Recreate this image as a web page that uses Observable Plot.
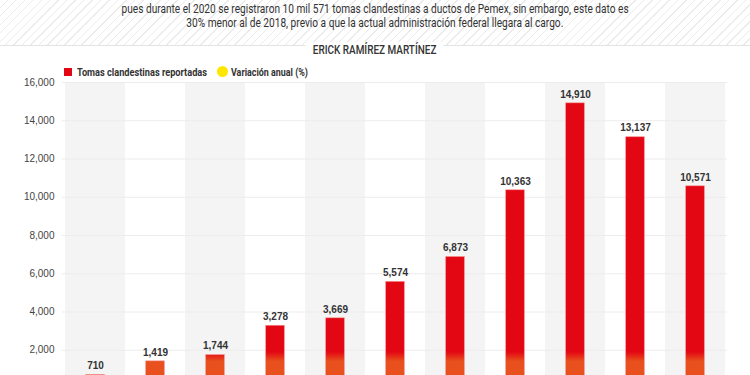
<!DOCTYPE html>
<html><head><meta charset="utf-8">
<script src="https://cdn.jsdelivr.net/npm/d3@7"></script>
<script src="https://cdn.jsdelivr.net/npm/@observablehq/plot@0.6"></script>
<style>
html,body{margin:0;padding:0;background:#fff;width:750px;height:375px;overflow:hidden;}
body{font-family:"Roboto","Liberation Sans",sans-serif;color:#333;position:relative;}
#header{position:absolute;top:0;left:0;width:750px;height:45px;border-bottom:1px solid #e3e3e3;
  background:repeating-linear-gradient(135deg,#ffffff 0px,#ffffff 5px,#ebebeb 5px,#ebebeb 6px);}
.line{position:absolute;left:0;width:750px;text-align:center;font-size:13px;line-height:15px;color:#333;}
.line span{display:inline-block;white-space:nowrap;transform-origin:center;}
#author{position:absolute;top:39px;left:0;width:750px;text-align:center;}
#author span{display:inline-block;background:#fff;padding:0 9px;font-size:12.5px;line-height:15px;font-weight:500;color:#333;white-space:nowrap;transform-origin:center;}
.lg{position:absolute;white-space:nowrap;font-size:11.5px;font-weight:700;line-height:14px;color:#333;transform-origin:left center;}
.sw{position:absolute;left:64px;top:68px;width:8px;height:8px;background:#e30613;}
.dot{position:absolute;left:217px;top:66px;width:11px;height:11px;border-radius:50%;background:#ffe600;}
#chart{position:absolute;top:70px;left:0;}
</style></head>
<body>
<div id="chart"></div>
<div id="header">
  <div class="line" style="top:1px"><span data-w="507">pues durante el 2020 se registraron 10 mil 571 tomas clandestinas a ductos de Pemex, sin embargo, este dato es</span></div>
  <div class="line" style="top:15px"><span data-w="377">30% menor al de 2018, previo a que la actual administración federal llegara al cargo.</span></div>
</div>
<div id="author"><span data-w="138">ERICK RAMÍREZ MARTÍNEZ</span></div>
<span class="sw"></span>
<span class="lg" style="left:77px;top:65px" data-w="130">Tomas clandestinas reportadas</span>
<span class="dot"></span>
<span class="lg" style="left:231px;top:65px" data-w="77">Variación anual (%)</span>
<script>
const years = [2010,2011,2012,2013,2014,2015,2016,2017,2018,2019,2020];
const tomas = [710,1419,1744,3278,3669,5574,6873,10363,14910,13137,10571];
const yTicks = [2000,4000,6000,8000,10000,12000,14000,16000];
const yMax = 16000;

const data = years.map((y,i)=>({year:y, v:tomas[i]}));
const bands = years.filter((y,i)=>i%2===0);

const plot = Plot.plot({
  width:750,
  height:328,
  marginTop:12,
  marginLeft:62,
  marginRight:23,
  marginBottom:10,
  style:{fontFamily:"Liberation Sans, Arial, sans-serif",fontSize:"10px",color:"#444",background:"transparent",overflow:"visible"},
  x:{type:"band",domain:years,padding:0,axis:null},
  y:{domain:[0,yMax],ticks:yTicks,tickFormat:d3.format(","),tickSize:0,tickPadding:8,label:null},
  marks:[
    Plot.barY(bands,{x:d=>d,y1:0,y2:yMax,fill:"#f4f4f4"}),
    Plot.ruleY(yTicks,{stroke:"#ececec",strokeWidth:1}),
    Plot.barY(data,{x:"year",y:"v",fill:"url(#barGrad)",insetLeft:20.7,insetRight:20.7,stroke:"#f58a8a",strokeWidth:0.7,strokeOpacity:0.8}),
    Plot.text(data,{x:"year",y:"v",text:d=>d3.format(",")(d.v),dy:-9,fontWeight:700,fontSize:10,fill:"#333"})
  ]
});
const ys = plot.scale("y");
const defs = d3.select(plot).insert("defs",":first-child");
const g = defs.append("linearGradient").attr("id","barGrad").attr("gradientUnits","userSpaceOnUse")
  .attr("x1",0).attr("x2",0).attr("y1",ys.apply(1900)).attr("y2",ys.apply(1400));
g.append("stop").attr("offset",0).attr("stop-color","#e30613");
g.append("stop").attr("offset",1).attr("stop-color","#e8501e");
document.getElementById("chart").appendChild(plot);

document.querySelectorAll("[data-w]").forEach(el=>{
  const w = el.getBoundingClientRect().width;
  const t = +el.dataset.w;
  el.style.transform = `scaleX(${t/w})`;
});
</script>
</body></html>
